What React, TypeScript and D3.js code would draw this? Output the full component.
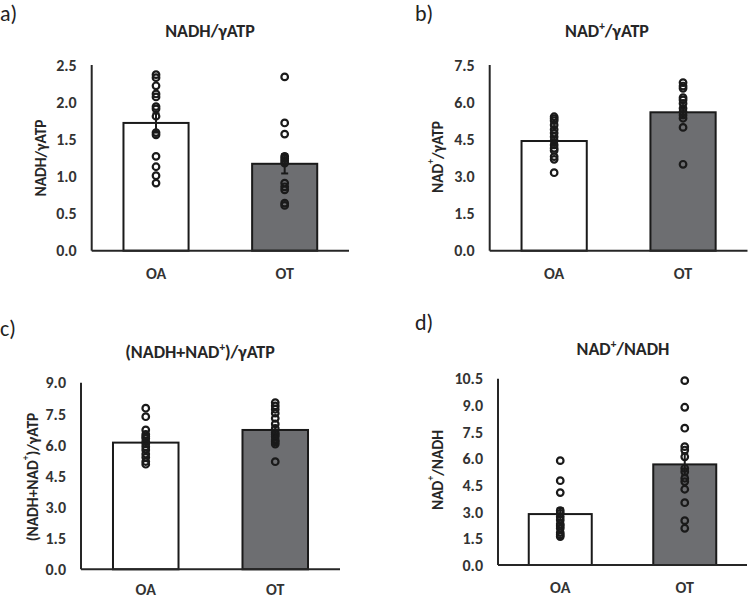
import React from "react";
import * as d3 from "d3";

const categories = ["OA", "OT"];
const panelLabels = ["a)", "b)", "c)", "d)"];
const titles = ["NADH/γATP", "NAD⁺/γATP", "(NADH+NAD⁺)/γATP", "NAD⁺/NADH"];
const yTitles = ["NADH/γATP", "NAD⁺/γATP", "(NADH+NAD⁺)/γATP", "NAD⁺/NADH"];
const yMaxes = [2.5, 7.5, 9.0, 10.5];
const ySteps = [0.5, 1.5, 1.5, 1.5];

// bar means [OA, OT]
const meansA = [1.72, 1.17];
const meansB = [4.43, 5.59];
const meansC = [6.11, 6.72];
const meansD = [2.87, 5.67];

// error (SEM) [OA, OT]
const semA = [0.13, 0.13];
const semB = [0.17, 0.2];
const semC = [0.2, 0.2];
const semD = [0.33, 0.62];

// individual points
const dotsA_OA = [2.37, 2.33, 2.22, 2.11, 2.07, 1.94, 1.91, 1.81, 1.59, 1.56, 1.27, 1.13, 1.01, 0.91];
const dotsA_OT = [2.34, 1.72, 1.57, 1.27, 1.24, 1.21, 1.18, 0.91, 0.86, 0.82, 0.64, 0.61];
const dotsB_OA = [5.41, 5.33, 5.25, 5.08, 4.9, 4.75, 4.6, 4.45, 4.27, 4.14, 4.05, 3.8, 3.69, 3.15];
const dotsB_OT = [6.79, 6.65, 6.56, 6.18, 6.09, 5.95, 5.75, 5.61, 5.48, 5.35, 4.98, 3.49];
const dotsC_OA = [7.77, 7.36, 6.72, 6.51, 6.4, 6.32, 6.16, 6.05, 5.91, 5.76, 5.56, 5.4, 5.2, 5.07];
const dotsC_OT = [8.04, 7.88, 7.72, 7.53, 7.28, 7.01, 6.8, 6.59, 6.5, 6.4, 6.24, 6.15, 6.04, 5.19];
const dotsD_OA = [5.88, 4.75, 4.08, 3.06, 2.91, 2.72, 2.54, 2.31, 2.2, 2.07, 1.82, 1.7, 1.6];
const dotsD_OT = [10.39, 8.89, 7.71, 6.67, 6.48, 6.1, 5.45, 5.26, 4.89, 4.7, 4.27, 3.51, 2.5, 2.07];

const means = [meansA, meansB, meansC, meansD];
const sems = [semA, semB, semC, semD];
const dots = [
  [dotsA_OA, dotsA_OT],
  [dotsB_OA, dotsB_OT],
  [dotsC_OA, dotsC_OT],
  [dotsD_OA, dotsD_OT],
];

// layout (positions only)
const layouts = [
  { x0: 91.7, x1: 349, yTop: 65, yBot: 250.7, lab: [0, 21], title: [210, 37], yt: [40, 158], catY: 278.5 },
  { x0: 489.7, x1: 747.5, yTop: 65, yBot: 250.7, lab: [415, 21], title: [607, 37], yt: [437, 157], catY: 278.5 },
  { x0: 81, x1: 340, yTop: 382.7, yBot: 569.3, lab: [0, 336], title: [200, 358], yt: [32, 477], catY: 595 },
  { x0: 498, x1: 747, yTop: 378.7, yBot: 565, lab: [415, 330], title: [623, 355], yt: [437, 470], catY: 593 },
];

const FONT = "Carlito, Lato, 'Open Sans', sans-serif";
const OT_FILL = "#6d6e71";
const AXIS = "#262626";
const TITLE_SIZE = 18;
const YT_SIZE = 15.5;
const TICK_SIZE = 16;

function RichText({ text, size }: { text: string; size: number }) {
  const parts = text.split("⁺");
  const out: React.ReactNode[] = [];
  parts.forEach((p, i) => {
    if (i > 0) {
      out.push(
        <tspan key={"s" + i} fontSize={size * 0.62} dy={-size * 0.38}>
          +
        </tspan>
      );
      out.push(
        <tspan key={"t" + i} dy={size * 0.38}>
          {p}
        </tspan>
      );
    } else {
      out.push(<tspan key={"t" + i}>{p}</tspan>);
    }
  });
  return <>{out}</>;
}

function Panel({ idx }: { idx: number }) {
  const L = layouts[idx];
  const x = d3
    .scaleBand<string>()
    .domain(categories)
    .range([L.x0, L.x1])
    .paddingInner(0.494)
    .paddingOuter(0.247);
  const y = d3.scaleLinear().domain([0, yMaxes[idx]]).range([L.yBot, L.yTop]);
  const ticks = d3.range(0, yMaxes[idx] + 1e-9, ySteps[idx]);
  const bw = x.bandwidth();
  return (
    <g fontFamily={FONT}>
      <text x={L.lab[0]} y={L.lab[1]} fontSize={22} fill="#222">
        {panelLabels[idx]}
      </text>
      <text x={L.title[0]} y={L.title[1]} fontSize={TITLE_SIZE} fontWeight="bold" textAnchor="middle" fill="#262626">
        <RichText text={titles[idx]} size={TITLE_SIZE} />
      </text>
      <text
        transform={`translate(${L.yt[0]},${L.yt[1]}) rotate(-90)`}
        fontSize={YT_SIZE}
        fontWeight="bold"
        textAnchor="middle"
        dominantBaseline="central"
        fill="#262626"
      >
        <RichText text={yTitles[idx]} size={YT_SIZE} />
      </text>
      {ticks.map((t) => (
        <text
          key={t}
          x={L.x0 - 15}
          y={y(t)}
          dy="0.36em"
          fontSize={TICK_SIZE}
          fontWeight="bold"
          textAnchor="end"
          fill="#333"
        >
          {d3.format(".1f")(t)}
        </text>
      ))}
      {categories.map((c, ci) => (
        <g key={c}>
          <rect
            x={x(c)!}
            y={y(means[idx][ci])}
            width={bw}
            height={y(0) - y(means[idx][ci])}
            fill={ci === 0 ? "#ffffff" : OT_FILL}
            stroke="#1a1a1a"
            strokeWidth={2}
          />
        </g>
      ))}
      <line x1={L.x0} x2={L.x0} y1={L.yTop} y2={L.yBot} stroke={AXIS} strokeWidth={2} />
      <line x1={L.x0} x2={L.x1} y1={L.yBot} y2={L.yBot} stroke={AXIS} strokeWidth={2} />
      {categories.map((c, ci) => {
        const cx = x(c)! + bw / 2;
        const m = means[idx][ci];
        const s = sems[idx][ci];
        return (
          <g key={"e" + c}>
            <line x1={cx} x2={cx} y1={y(m - s)} y2={y(m + s)} stroke="#1a1a1a" strokeWidth={2} />
            <line x1={cx - 3.5} x2={cx + 3.5} y1={y(m - s)} y2={y(m - s)} stroke="#1a1a1a" strokeWidth={2} />
            <line x1={cx - 3.5} x2={cx + 3.5} y1={y(m + s)} y2={y(m + s)} stroke="#1a1a1a" strokeWidth={2} />
            {dots[idx][ci].map((v, k) => (
              <circle key={k} cx={cx} cy={y(v)} r={3.3} fill="#ffffff" fillOpacity={0} stroke="#1a1a1a" strokeWidth={2.2} />
            ))}
          </g>
        );
      })}
      {categories.map((c) => (
        <text
          key={"c" + c}
          x={x(c)! + bw / 2}
          y={L.catY}
          fontSize={TICK_SIZE}
          fontWeight="bold"
          textAnchor="middle"
          fill="#333"
        >
          {c}
        </text>
      ))}
    </g>
  );
}

export default function App() {
  return (
    <svg
      width={748}
      height={598}
      viewBox="0 0 748 598"
      style={{ position: "absolute", left: 0, top: 0, background: "#ffffff" }}
    >
      <rect x={0} y={0} width={748} height={598} fill="#ffffff" />
      {[0, 1, 2, 3].map((i) => (
        <Panel key={i} idx={i} />
      ))}
    </svg>
  );
}
